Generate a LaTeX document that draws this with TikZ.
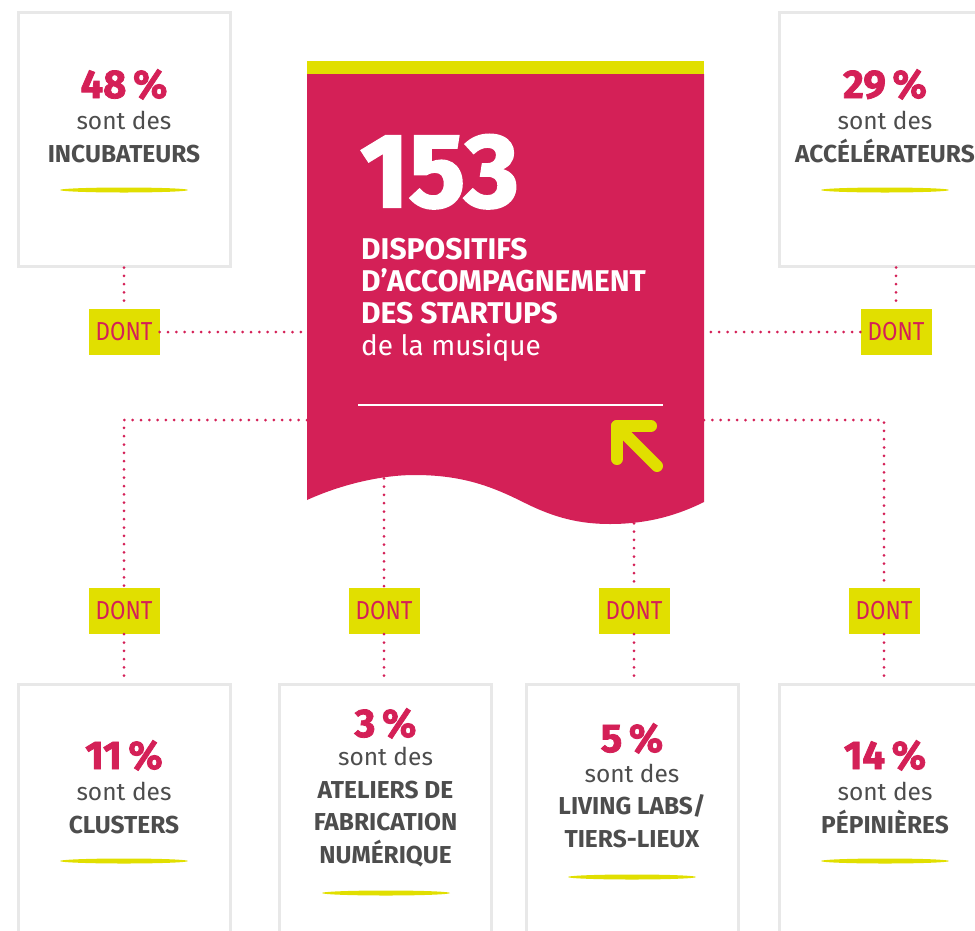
\documentclass[tikz,border=0pt]{standalone}
\usepackage{fontspec}
\setmainfont{Fira Sans}
\newfontfamily\heavyfont{Fira Sans}[BoldFeatures={FakeBold=2}]
\newfontfamily\dontfont{Fira Sans}[FakeStretch=0.86]
\usetikzlibrary{positioning}

\definecolor{rosemus}{RGB}{212,32,87}
\definecolor{lime}{RGB}{225,223,0}
\definecolor{textgray}{RGB}{77,77,77}
\definecolor{cardgray}{RGB}{232,232,232}

\begin{document}
\begin{tikzpicture}
		[x=1pt, y=-1pt,
		card/.style={draw=cardgray, line width=3pt, minimum width=212pt, minimum height=254pt, anchor=north},
		dont/.style={fill=lime, text=rosemus, minimum width=71pt, minimum height=46pt, inner sep=0pt, font=\dontfont\fontsize{26}{26}\selectfont},
		pct/.style={text=rosemus, font=\heavyfont\bfseries\fontsize{40}{40}\selectfont, anchor=base, inner sep=0pt},
		kind/.style={text=textgray, font=\fontsize{24.5}{32.5}\selectfont, align=center, anchor=base, inner sep=0pt},
		lens/.style={fill=lime},
		dots/.style={rosemus, line width=3pt, line cap=round, dash pattern=on 0pt off 8.3pt}]
		\useasboundingbox (0,0) rectangle (975,930);
		\clip (0,0) rectangle (975,930);

		\node[card] (incub) at (124,10.5) {};
		\node[card] (accel) at (885,10.5) {};
		\node[card, minimum height=280pt] (clust) at (124,682.5) {};
		\node[card, minimum height=280pt] (atel) at (385.5,682.5) {};
		\node[card, minimum height=280pt] (liv) at (632,682.5) {};
		\node[card, minimum height=280pt] (pepi) at (885,682.5) {};

		% percentages and kinds, the kind node sits on its last line
		\node[pct] (p-incub) at (124,98) {48\,\%};
		\node[kind] (k-incub) at (124,162) {sont des\\\textbf{INCUBATEURS}};
		\fill[lens] (124,190) ellipse [x radius=64, y radius=2.5];
		\node[pct] (p-accel) at (885,98) {29\,\%};
		\node[kind] (k-accel) at (885,162) {sont des\\\textbf{ACCÉLÉRATEURS}};
		\fill[lens] (885,190) ellipse [x radius=64, y radius=2.5];
		\node[pct] (p-clust) at (124,769) {11\,\%};
		\node[kind] (k-clust) at (124,833) {sont des\\\textbf{CLUSTERS}};
		\fill[lens] (124,861) ellipse [x radius=64, y radius=2.5];
		\node[pct] (p-atel) at (385.5,737) {3\,\%};
		\node[kind] (k-atel) at (385.5,863) {sont des\\\textbf{ATELIERS DE}\\\textbf{FABRICATION}\\\textbf{NUMÉRIQUE}};
		\fill[lens] (386,893) ellipse [x radius=64, y radius=2.5];
		\node[pct] (p-liv) at (632,752) {5\,\%};
		\node[kind] (k-liv) at (632,847) {sont des\\\textbf{LIVING LABS/}\\\textbf{TIERS-LIEUX}};
		\fill[lens] (632,877) ellipse [x radius=64, y radius=2.5];
		\node[pct] (p-pepi) at (885,769) {14\,\%};
		\node[kind] (k-pepi) at (885,833) {sont des\\\textbf{PÉPINIÈRES}};
		\fill[lens] (885,861) ellipse [x radius=64, y radius=2.5];

		\node[dont] (d-incub) at (124,332) {DONT};
		\node[dont] (d-accel) at (896,332) {DONT};
		\node[dont] (d-clust) at (124,611) {DONT};
		\node[dont] (d-atel) at (384,611) {DONT};
		\node[dont] (d-liv) at (634,611) {DONT};
		\node[dont] (d-pepi) at (884,611) {DONT};

		\coordinate (ban-l1) at (307,332);
		\coordinate (ban-r1) at (704,332);
		\coordinate (ban-l2) at (307,420);
		\coordinate (ban-r2) at (704,420);
		\coordinate (ban-m1) at (384,470);
		\coordinate (ban-m2) at (634,515);

		\draw[dots] (incub.south) -- (d-incub.north);
		\draw[dots] (d-incub.east) -- (ban-l1);
		\draw[dots] (d-accel.north |- accel.south) -- (d-accel.north);
		\draw[dots] (d-accel.west) -- (ban-r1);
		\draw[dots] (ban-l2) -| (d-clust.north);
		\draw[dots] (d-clust.south) -- (clust.north);
		\draw[dots] (ban-m1) -- (d-atel.north);
		\draw[dots] (d-atel.south) -- (d-atel.south |- atel.north);
		\draw[dots] (ban-m2) -- (d-liv.north);
		\draw[dots] (d-liv.south) -- (d-liv.south |- liv.north);
		\draw[dots] (ban-r2) -| (d-pepi.north);
		\draw[dots] (d-pepi.south) -- (d-pepi.south |- pepi.north);

		% banner
		\fill[lime] (307,61) rectangle (704,74);
		\fill[rosemus] (307,74) -- (704,74) -- (704,502)
			.. controls (680,514) and (650,524) .. (610,524)
			.. controls (580,524) and (555,518) .. (525,503)
			.. controls (495,488) and (465,475) .. (415,475)
			.. controls (380,475) and (340,485) .. (307,500) -- cycle;
		\node[text=white, font=\heavyfont\bfseries\fontsize{105}{105}\selectfont, anchor=base west, inner sep=0pt] (total) at (360,207) {153};
		\node[text=white, font=\fontsize{30}{32}\selectfont, align=left, anchor=base west, inner sep=0pt] (title) at (361,355)
			{\textbf{DISPOSITIFS}\\\textbf{D’ACCOMPAGNEMENT}\\\textbf{DES STARTUPS}\\{\fontsize{28}{32}\selectfont de la musique}};
		\draw[white, line width=2.5pt] (358,405) -- (663,405);
		\draw[lime, line width=12pt, line cap=round, line join=round] (651,426) -- (617,426) -- (617,459);
		\draw[lime, line width=12pt, line cap=round] (617,426) -- (657,466);
	\end{tikzpicture}
\end{document}
